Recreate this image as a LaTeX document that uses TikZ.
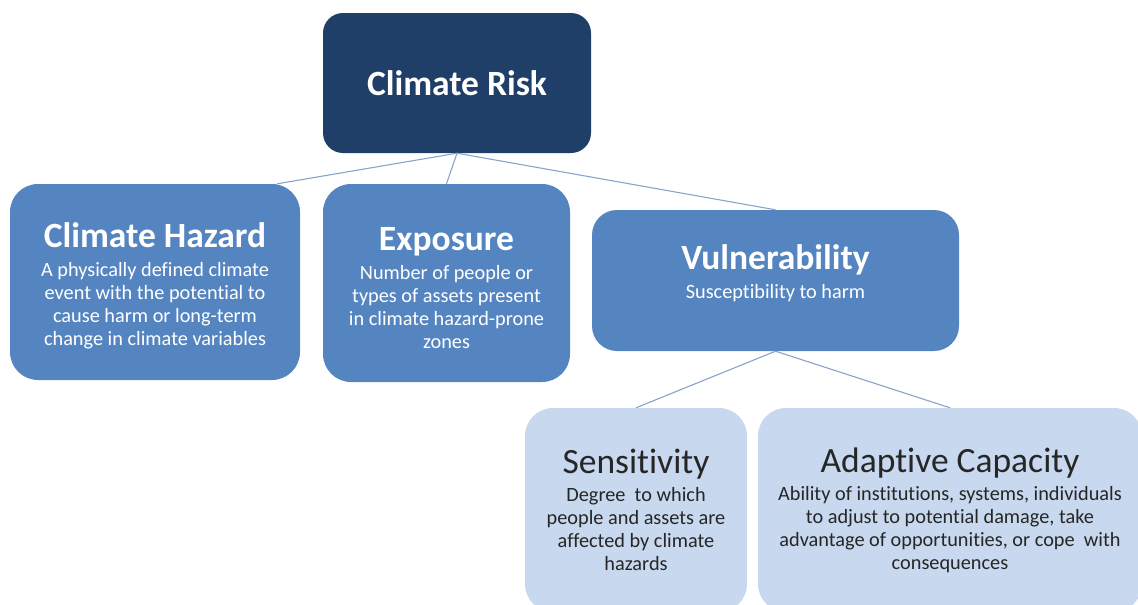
\documentclass[tikz,border=0pt]{standalone}
\usepackage{fontspec}
\setmainfont{Carlito}[Ligatures=NoCommon]
\definecolor{riskblue}{HTML}{1F3E68}
\definecolor{midblue}{HTML}{5585C1}
\definecolor{paleblue}{HTML}{C8D8EE}
\definecolor{linkblue}{HTML}{8AA4C8}
\newcommand{\heading}[1]{{\fontsize{35.5}{40}\selectfont #1}}
\newcommand{\tallhead}[1]{\heading{\rule{0pt}{33pt}\bfseries #1}}
\tikzset{
  box/.style={rounded corners=28pt, inner sep=0pt, align=center,
    font=\fontsize{20.3}{23}\selectfont},
  midbox/.style={box, fill=midblue, text=white},
  palebox/.style={box, fill=paleblue, text=black!85},
  link/.style={draw=linkblue, line width=1.1pt}
}
\begin{document}
\begin{tikzpicture}[x=1pt, y=-1pt]
  \useasboundingbox (0,0) rectangle (1138,605);

  \node[box, fill=riskblue, text=white, rounded corners=20pt,
        minimum width=268pt, minimum height=140pt] (risk) at (457,83)
        {\heading{\bfseries Climate Risk}};

  \node[midbox, minimum width=290pt, minimum height=196pt] (haz) at (155,282)
        {\tallhead{Climate Hazard}\\[6pt]
         A physically defined climate\\ event with the potential to\\
         cause harm or long-term\\ change in climate variables};
  \node[midbox, minimum width=247pt, minimum height=198pt] (exp) at (446.5,283)
        {\tallhead{Exposure}\\[6pt]
         Number of people or\\ types of assets present\\
         in climate hazard-prone\\ zones};
  \node[midbox, rounded corners=25pt, minimum width=367pt, minimum height=141pt,
        text depth=26pt] (vul) at (775.5,280.5)
        {\tallhead{Vulnerability}\\[6pt] Susceptibility to harm};

  \node[palebox, minimum width=222pt, minimum height=204pt] (sens) at (636,510)
        {\heading{Sensitivity}\\[5pt]
         Degree\ \ to which\\ people and assets are\\
         affected by climate\\ hazards};
  \node[palebox, minimum width=384pt, minimum height=204pt] (adap) at (950,510)
        {\heading{Adaptive Capacity}\\[5pt]
         Ability of institutions, systems, individuals\\
         to adjust to potential damage, take\\
         advantage of opportunities, or cope\ \ with\\ consequences};

  \draw[link] (risk.south) -- ([xshift=-23pt]haz.north east);
  \foreach \kid in {exp, vul}
      {
          \draw[link] (risk.south) -- (\kid.north);
      }
  \foreach \kid in {sens, adap}
      {
          \draw[link] (vul.south) -- (\kid.north);
      }
\end{tikzpicture}
\end{document}
